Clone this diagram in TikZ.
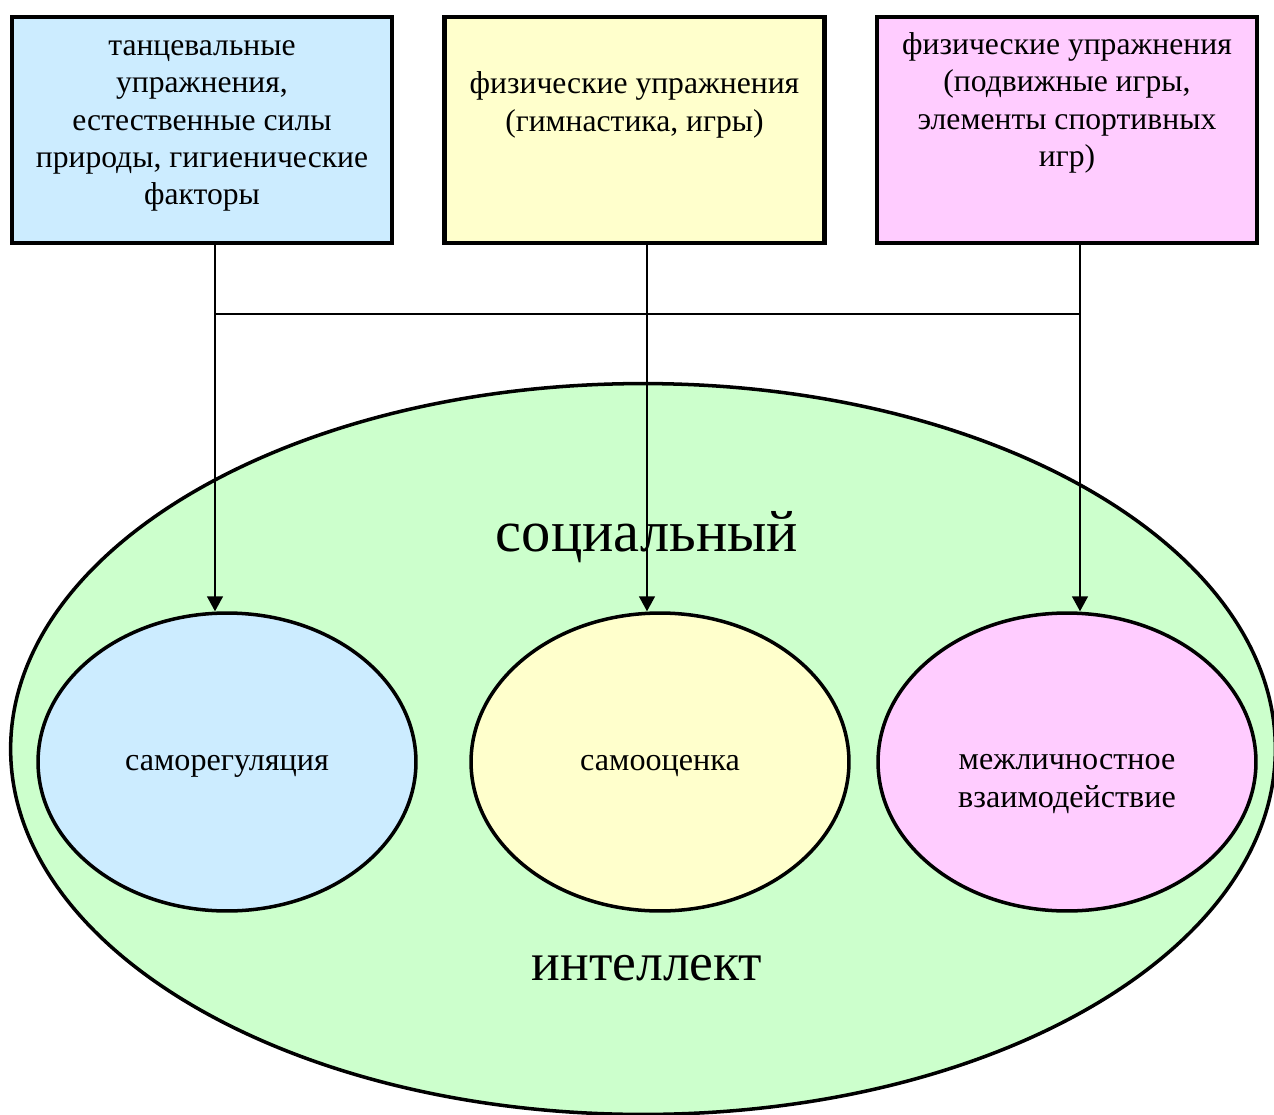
\documentclass[tikz,border=0pt]{standalone}
\usepackage{fontspec}
\setmainfont{Liberation Serif}
\usetikzlibrary{arrows.meta,positioning,shapes.geometric}
\definecolor{ink}{HTML}{000000}
\definecolor{bluefill}{HTML}{CCECFF}
\definecolor{yellowfill}{HTML}{FFFFCC}
\definecolor{pinkfill}{HTML}{FFCCFF}
\definecolor{greenfill}{HTML}{CCFFCC}
\tikzset{
  factor/.style={draw=ink, line width=2.4pt, minimum width=7.6cm, minimum height=4.52cm, inner sep=0pt},
  facttext/.style={align=center, font=\fontsize{18}{21.2}\selectfont, text=ink},
  part/.style={ellipse, draw=ink, line width=2pt, minimum width=7.56cm, minimum height=5.96cm, inner sep=0pt},
  parttext/.style={align=center, font=\fontsize{18.3}{21.5}\selectfont, text=ink},
  whole/.style={ellipse, draw=ink, line width=2pt, fill=greenfill, minimum width=25.3cm, minimum height=14.62cm, inner sep=0pt},
  big/.style={font=\fontsize{33.3}{40}\selectfont, text=ink},
  link/.style={draw=ink, line width=0.85pt},
  arrow/.style={link, -{Triangle[length=3mm,width=3.2mm]}}
}
\begin{document}
\begin{tikzpicture}[x=0.02cm, y=-0.02cm]
\useasboundingbox (0,0) rectangle (1274,1115);
% social intelligence
\node[whole] (si) at (643,749) {};
\node[big] (soc) at (647,537) {социальный};
\node[big, font=\fontsize{30.5}{36}\selectfont] (intl) at (647,968) {интеллект};
\node[part, fill=bluefill] (sr) at (227,762) {};
\node[part, fill=yellowfill] (so) at (660,762) {};
\node[part, fill=pinkfill] (mv) at (1067,762) {};
\node[parttext] (srt) at (227,766) {саморегуляция};
\node[parttext] (sot) at (660,766) {самооценка};
\node[parttext] (mvt) at (1067,784) {межличностное\\взаимодействие};
% means
\node[factor, fill=bluefill] (f1) at (202,130) {};
\node[factor, fill=yellowfill] (f2) at (634.5,130) {};
\node[factor, fill=pinkfill] (f3) at (1067,130) {};
\node[facttext] (t1) at (202,126) {танцевальные\\упражнения,\\естественные силы\\природы, гигиенические\\факторы};
\node[facttext] (t2) at (634.5,105) {физические упражнения\\(гимнастика, игры)};
\node[facttext] (t3) at (1067,103) {физические упражнения\\(подвижные игры,\\элементы спортивных\\игр)};
% connectors
\coordinate (j1) at (215,314);
\coordinate (j2) at (647,314);
\coordinate (j3) at (1080,314);
\draw[link] (f1.south -| j1) -- (j1);
\draw[link] (f2.south -| j2) -- (j2);
\draw[link] (f3.south -| j3) -- (j3);
\draw[link] (j1) -- (j3);
\draw[arrow] (j1) -- (j1 |- sr.north);
\draw[arrow] (j2) -- (j2 |- so.north);
\draw[arrow] (j3) -- (j3 |- mv.north);
\end{tikzpicture}
\end{document}
